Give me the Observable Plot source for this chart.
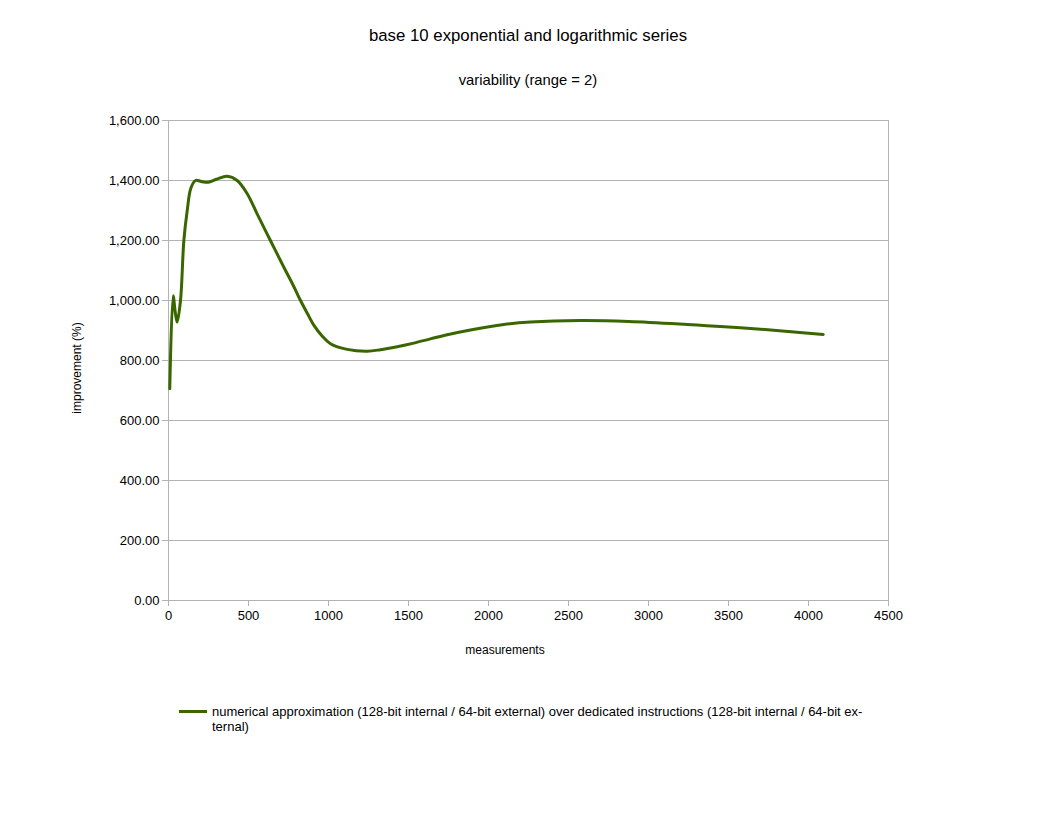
<!DOCTYPE html>
<html>
<head>
<meta charset="utf-8">
<script src="https://cdn.jsdelivr.net/npm/d3@7"></script>
<script src="https://cdn.jsdelivr.net/npm/@observablehq/plot@0.6"></script>
<style>
  html, body { margin: 0; padding: 0; background: #fff; }
  body { width: 1056px; height: 816px; position: relative; overflow: hidden; font-family: "Liberation Sans", Arial, sans-serif; color: #000; }
  .t { position: absolute; white-space: nowrap; }
  #chart { position: absolute; left: 0; top: 0; }
</style>
</head>
<body>
<div id="chart"></div>
<div class="t" style="left:0;width:1056px;text-align:center;top:26px;font-size:16.8px;">base 10 exponential and logarithmic series</div>
<div class="t" style="left:0;width:1056px;text-align:center;top:72px;font-size:14.8px;">variability (range = 2)</div>
<div class="t" style="left:0;width:1010px;text-align:center;top:643px;font-size:12px;">measurements</div>
<div class="t" style="left:77px;top:368px;font-size:12px;transform:translate(-50%,-50%) rotate(-90deg);">improvement (%)</div>
<div class="t" style="left:179px;top:710px;width:28px;height:3px;background:#3a6600;"></div>
<div class="t" style="left:212px;top:704px;font-size:13px;line-height:15px;white-space:normal;width:660px;">numerical approximation (128-bit internal / 64-bit external) over dedicated instructions (128-bit internal / 64-bit ex-<br>ternal)</div>
<script>
const measurements = [8, 29, 42, 54, 75, 96, 117, 140, 169, 210, 248, 300, 367, 429, 492, 554, 637, 721, 780, 825, 870, 908, 960, 1012, 1117, 1242, 1325, 1429, 1533, 1637, 1742, 1887, 2096, 2262, 2575, 2877, 3242, 3658, 4092];
const improvement  = [706, 1016, 962, 928, 1000, 1200, 1300, 1375, 1400, 1396, 1394, 1404, 1414, 1400, 1356, 1289, 1200, 1111, 1050, 1000, 955, 918, 882, 856, 837, 831, 836, 846, 858, 872, 886, 902, 920, 928, 933, 930, 920, 906, 887];
const yTicks = [0, 200, 400, 600, 800, 1000, 1200, 1400, 1600];
const xTicks = [0, 500, 1000, 1500, 2000, 2500, 3000, 3500, 4000, 4500];

const data = measurements.map((m, i) => ({m, v: improvement[i]}));
const grid = "#b3b3b3";

const plot = Plot.plot({
  width: 1056,
  height: 816,
  marginLeft: 168,
  marginRight: 168,
  marginTop: 120,
  marginBottom: 216,
  style: {fontFamily: "Liberation Sans, Arial, sans-serif", fontSize: "13px", color: "#000", background: "#fff"},
  x: {domain: [0, 4500], ticks: xTicks, label: null},
  y: {domain: [0, 1600], ticks: yTicks, label: null},
  marks: [
    Plot.gridY(yTicks, {stroke: grid, strokeOpacity: 1}),
    Plot.frame({stroke: grid}),
    Plot.axisY(yTicks, {tickFormat: d3.format(",.2f"), tickSize: 6, tickPadding: 3, stroke: grid, fill: "#000", fontSize: 13}),
    Plot.axisX(xTicks, {tickFormat: d => String(d), tickSize: 6, tickPadding: 4, stroke: grid, fill: "#000", fontSize: 13}),
    Plot.line(data, {x: "m", y: "v", stroke: "#3a6600", strokeWidth: 3, curve: "catmull-rom"})
  ]
});
document.getElementById("chart").appendChild(plot);
</script>
</body>
</html>
